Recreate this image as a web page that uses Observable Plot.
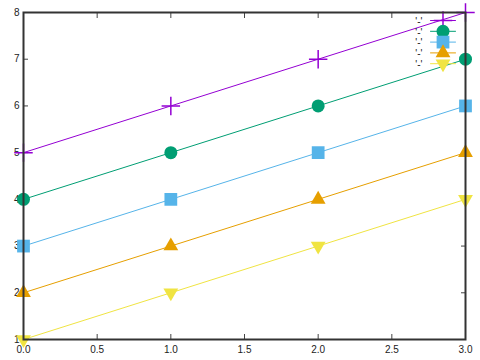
<!DOCTYPE html>
<html><head><meta charset="utf-8">
<script src="https://cdn.jsdelivr.net/npm/d3@7"></script>
<script src="https://cdn.jsdelivr.net/npm/@observablehq/plot@0.6"></script>
<style>body{margin:0;background:#fff}</style>
</head><body><div id="chart"></div>
<script>
const xValues = [0, 1, 2, 3];
const seriesNames = ["'-'", "'-'", "'-'", "'-'", "'-'"];
const purpleValues = [5, 6, 7, 8];
const greenValues = [4, 5, 6, 7];
const blueValues = [3, 4, 5, 6];
const orangeValues = [2, 3, 4, 5];
const yellowValues = [1, 2, 3, 4];
const xTicks = [0, 0.5, 1, 1.5, 2, 2.5, 3];
const yTicks = [1, 2, 3, 4, 5, 6, 7, 8];

const seriesValues = [purpleValues, greenValues, blueValues, orangeValues, yellowValues];
const styles = [
  {color: "#9400d3", symbol: "plus", r: 6, stroke: true, rotate: 0},
  {color: "#009e73", symbol: "circle", r: 6.5, stroke: false, rotate: 0},
  {color: "#56b4e9", symbol: "square", r: 7.2, stroke: false, rotate: 0},
  {color: "#e69f00", symbol: "triangle", r: 5.5, stroke: false, rotate: 0},
  {color: "#f0e442", symbol: "triangle", r: 5.5, stroke: false, rotate: 180}
];

const lineShape = {draw(context, l) { context.moveTo(0, 0); context.lineTo(0, -l); }};

const marks = [];
seriesValues.forEach((vals, i) => {
  const st = styles[i];
  const data = xValues.map((x, j) => ({x, y: vals[j]}));
  marks.push(Plot.line(data, {x: "x", y: "y", stroke: st.color, strokeWidth: 1}));
  marks.push(Plot.dot(data, {x: "x", y: "y", symbol: st.symbol, r: st.r, rotate: st.rotate,
    fill: st.stroke ? "none" : st.color, stroke: st.stroke ? st.color : "none", strokeWidth: st.stroke ? 1.5 : 0}));
});

// legend (top-right inside frame)
const legendMarks = [];
seriesNames.forEach((name, i) => {
  const st = styles[i];
  const dy = 8 + i * 10.8;
  legendMarks.push(Plot.text([name], {text: d => d, frameAnchor: "top-right", dx: -43, dy: dy + 1, textAnchor: "end",
    lineAnchor: "middle", fontSize: 10, fill: "#222"}));
  legendMarks.push(Plot.vector([name], {frameAnchor: "top-right", dx: -22.5, dy, length: 25, rotate: 90,
    anchor: "middle", shape: lineShape, stroke: st.color, strokeWidth: 1}));
  legendMarks.push(Plot.dot([name], {frameAnchor: "top-right", dx: -22.5, dy, symbol: st.symbol, r: st.r,
    rotate: st.rotate, fill: st.stroke ? "none" : st.color, stroke: st.stroke ? st.color : "none",
    strokeWidth: st.stroke ? 1.5 : 0}));
});

const chart = Plot.plot({
  width: 480, height: 360,
  marginLeft: 23, marginRight: 15, marginTop: 12, marginBottom: 21,
  style: {fontFamily: "'Liberation Sans', Arial, sans-serif", fontSize: "10px", color: "#222", background: "#fff"},
  x: {domain: [0, 3]},
  y: {domain: [1, 8]},
  marks: [
    Plot.axisX(xTicks, {anchor: "bottom", tickSize: -5, tickPadding: 11, stroke: "#444", label: null}),
    Plot.axisX(xTicks, {anchor: "top", tickSize: -5, text: null, stroke: "#444", label: null}),
    Plot.axisY(yTicks, {anchor: "left", tickSize: -5, tickPadding: 9, stroke: "#444", label: null}),
    Plot.axisY(yTicks, {anchor: "right", tickSize: -5, text: null, stroke: "#444", label: null}),
    ...marks,
    ...legendMarks,
    Plot.frame({stroke: "#333", strokeWidth: 2})
  ]
});
document.getElementById("chart").appendChild(chart);
</script>
</body></html>
